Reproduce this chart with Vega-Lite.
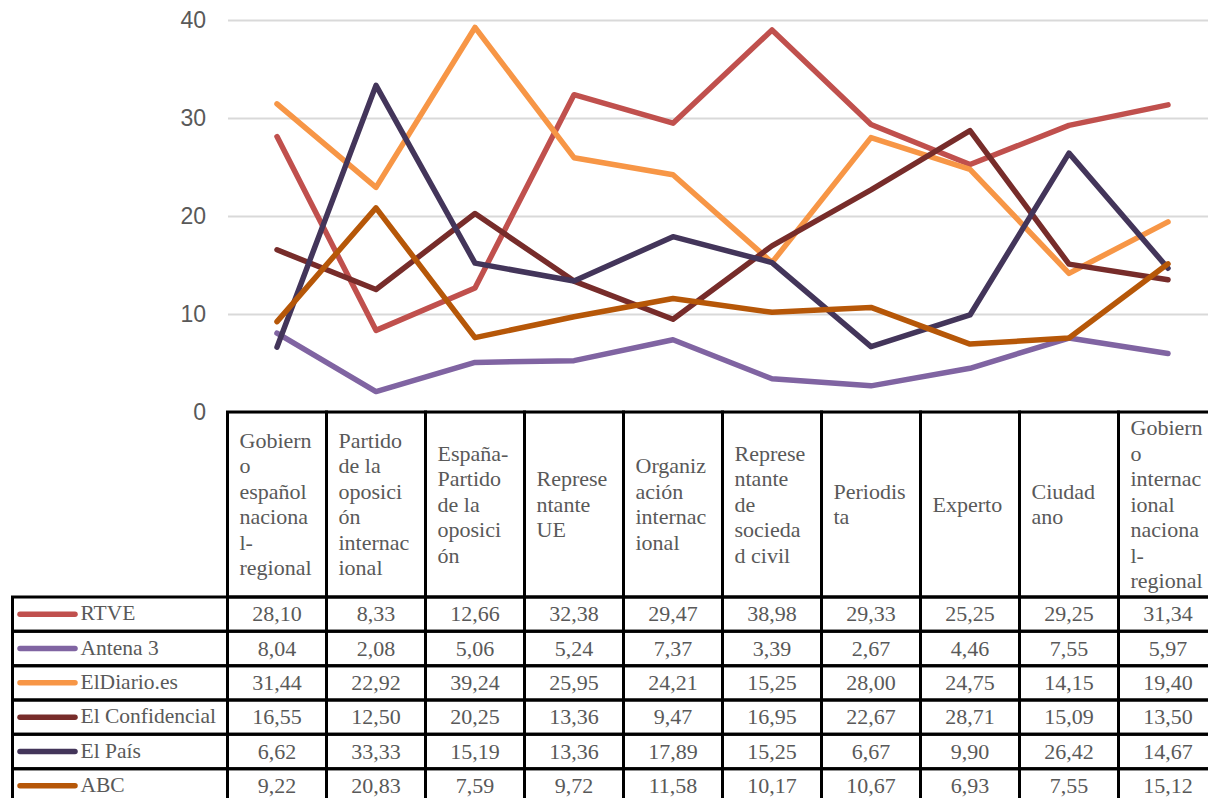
{
  "$schema": "https://vega.github.io/schema/vega-lite/v6.json",
  "padding": {"left": 8.5, "top": 9, "right": 0, "bottom": 0},
  "background": "white",
  "config": {
    "view": {"stroke": null},
    "locale": {"number": {"decimal": ",", "thousands": ".", "grouping": [3], "currency": ["", " €"]}}
  },
  "datasets": {
    "valores": [
      {"medio": "RTVE", "cat": "Gobierno español nacional-regional", "valor": 28.10},
      {"medio": "RTVE", "cat": "Partido de la oposición internacional", "valor": 8.33},
      {"medio": "RTVE", "cat": "España-Partido de la oposición", "valor": 12.66},
      {"medio": "RTVE", "cat": "Representante UE", "valor": 32.38},
      {"medio": "RTVE", "cat": "Organización internacional", "valor": 29.47},
      {"medio": "RTVE", "cat": "Representante de sociedad civil", "valor": 38.98},
      {"medio": "RTVE", "cat": "Periodista", "valor": 29.33},
      {"medio": "RTVE", "cat": "Experto", "valor": 25.25},
      {"medio": "RTVE", "cat": "Ciudadano", "valor": 29.25},
      {"medio": "RTVE", "cat": "Gobierno internacional nacional-regional", "valor": 31.34},
      {"medio": "Antena 3", "cat": "Gobierno español nacional-regional", "valor": 8.04},
      {"medio": "Antena 3", "cat": "Partido de la oposición internacional", "valor": 2.08},
      {"medio": "Antena 3", "cat": "España-Partido de la oposición", "valor": 5.06},
      {"medio": "Antena 3", "cat": "Representante UE", "valor": 5.24},
      {"medio": "Antena 3", "cat": "Organización internacional", "valor": 7.37},
      {"medio": "Antena 3", "cat": "Representante de sociedad civil", "valor": 3.39},
      {"medio": "Antena 3", "cat": "Periodista", "valor": 2.67},
      {"medio": "Antena 3", "cat": "Experto", "valor": 4.46},
      {"medio": "Antena 3", "cat": "Ciudadano", "valor": 7.55},
      {"medio": "Antena 3", "cat": "Gobierno internacional nacional-regional", "valor": 5.97},
      {"medio": "ElDiario.es", "cat": "Gobierno español nacional-regional", "valor": 31.44},
      {"medio": "ElDiario.es", "cat": "Partido de la oposición internacional", "valor": 22.92},
      {"medio": "ElDiario.es", "cat": "España-Partido de la oposición", "valor": 39.24},
      {"medio": "ElDiario.es", "cat": "Representante UE", "valor": 25.95},
      {"medio": "ElDiario.es", "cat": "Organización internacional", "valor": 24.21},
      {"medio": "ElDiario.es", "cat": "Representante de sociedad civil", "valor": 15.25},
      {"medio": "ElDiario.es", "cat": "Periodista", "valor": 28.00},
      {"medio": "ElDiario.es", "cat": "Experto", "valor": 24.75},
      {"medio": "ElDiario.es", "cat": "Ciudadano", "valor": 14.15},
      {"medio": "ElDiario.es", "cat": "Gobierno internacional nacional-regional", "valor": 19.40},
      {"medio": "El Confidencial", "cat": "Gobierno español nacional-regional", "valor": 16.55},
      {"medio": "El Confidencial", "cat": "Partido de la oposición internacional", "valor": 12.50},
      {"medio": "El Confidencial", "cat": "España-Partido de la oposición", "valor": 20.25},
      {"medio": "El Confidencial", "cat": "Representante UE", "valor": 13.36},
      {"medio": "El Confidencial", "cat": "Organización internacional", "valor": 9.47},
      {"medio": "El Confidencial", "cat": "Representante de sociedad civil", "valor": 16.95},
      {"medio": "El Confidencial", "cat": "Periodista", "valor": 22.67},
      {"medio": "El Confidencial", "cat": "Experto", "valor": 28.71},
      {"medio": "El Confidencial", "cat": "Ciudadano", "valor": 15.09},
      {"medio": "El Confidencial", "cat": "Gobierno internacional nacional-regional", "valor": 13.50},
      {"medio": "El País", "cat": "Gobierno español nacional-regional", "valor": 6.62},
      {"medio": "El País", "cat": "Partido de la oposición internacional", "valor": 33.33},
      {"medio": "El País", "cat": "España-Partido de la oposición", "valor": 15.19},
      {"medio": "El País", "cat": "Representante UE", "valor": 13.36},
      {"medio": "El País", "cat": "Organización internacional", "valor": 17.89},
      {"medio": "El País", "cat": "Representante de sociedad civil", "valor": 15.25},
      {"medio": "El País", "cat": "Periodista", "valor": 6.67},
      {"medio": "El País", "cat": "Experto", "valor": 9.90},
      {"medio": "El País", "cat": "Ciudadano", "valor": 26.42},
      {"medio": "El País", "cat": "Gobierno internacional nacional-regional", "valor": 14.67},
      {"medio": "ABC", "cat": "Gobierno español nacional-regional", "valor": 9.22},
      {"medio": "ABC", "cat": "Partido de la oposición internacional", "valor": 20.83},
      {"medio": "ABC", "cat": "España-Partido de la oposición", "valor": 7.59},
      {"medio": "ABC", "cat": "Representante UE", "valor": 9.72},
      {"medio": "ABC", "cat": "Organización internacional", "valor": 11.58},
      {"medio": "ABC", "cat": "Representante de sociedad civil", "valor": 10.17},
      {"medio": "ABC", "cat": "Periodista", "valor": 10.67},
      {"medio": "ABC", "cat": "Experto", "valor": 6.93},
      {"medio": "ABC", "cat": "Ciudadano", "valor": 7.55},
      {"medio": "ABC", "cat": "Gobierno internacional nacional-regional", "valor": 15.12}
    ],
    "categorias": [
      {"cat": "Gobierno español nacional-regional", "etiqueta": "Gobiern\no\nespañol\nnaciona\nl-\nregional"},
      {"cat": "Partido de la oposición internacional", "etiqueta": "Partido\nde la\noposici\nón\ninternac\nional"},
      {"cat": "España-Partido de la oposición", "etiqueta": "España-\nPartido\nde la\noposici\nón"},
      {"cat": "Representante UE", "etiqueta": "Represe\nntante\nUE"},
      {"cat": "Organización internacional", "etiqueta": "Organiz\nación\ninternac\nional"},
      {"cat": "Representante de sociedad civil", "etiqueta": "Represe\nntante\nde\nsocieda\nd civil"},
      {"cat": "Periodista", "etiqueta": "Periodis\nta"},
      {"cat": "Experto", "etiqueta": "Experto"},
      {"cat": "Ciudadano", "etiqueta": "Ciudad\nano"},
      {"cat": "Gobierno internacional nacional-regional", "etiqueta": "Gobiern\no\ninternac\nional\nnaciona\nl-\nregional"}
    ],
    "vacio": [{"t": ""}]
  },
  "columns": 2,
  "spacing": 0,
  "bounds": "flush",
  "align": "each",
  "resolve": {"scale": {"color": "shared"}},
  "concat": [
    {
      "width": 215, "height": 1,
      "data": {"name": "vacio"},
      "mark": {"type": "text"},
      "encoding": {"text": {"field": "t"}}
    },
    {
      "width": 990, "height": 392,
      "data": {"name": "valores"},
      "mark": {"type": "line", "strokeWidth": 5.5, "strokeJoin": "round", "strokeCap": "round"},
      "encoding": {
        "x": {"field": "cat", "type": "nominal", "axis": null, "sort": null,
              "scale": {"type": "point", "padding": 0.5, "domain": ["Gobierno español nacional-regional", "Partido de la oposición internacional", "España-Partido de la oposición", "Representante UE", "Organización internacional", "Representante de sociedad civil", "Periodista", "Experto", "Ciudadano", "Gobierno internacional nacional-regional"]}},
        "y": {"field": "valor", "type": "quantitative",
              "scale": {"domain": [0, 40], "nice": false},
              "axis": {"title": null, "values": [0, 10, 20, 30, 40], "domain": false, "ticks": false,
                       "grid": true, "gridColor": "#d9d9d9", "gridWidth": 2,
                       "labelFont": "Liberation Sans", "labelFontSize": 23, "labelColor": "#595959",
                       "labelPadding": 22}},
        "color": {"field": "medio", "type": "nominal", "legend": null,
                  "scale": {"domain": ["RTVE", "Antena 3", "ElDiario.es", "El Confidencial", "El País", "ABC"],
                            "range": ["#C0504D", "#8064A2", "#F79646", "#772C2A", "#43355A", "#B65708"]}}
      }
    },
    {
      "width": 215, "height": 1,
      "data": {"name": "vacio"},
      "mark": {"type": "text"},
      "encoding": {"text": {"field": "t"}}
    },
    {
      "width": 990, "height": 185,
      "data": {"name": "categorias"},
      "encoding": {
        "x": {"field": "cat", "type": "nominal", "axis": null, "sort": null,
              "scale": {"type": "band", "paddingInner": 0, "paddingOuter": 0}}
      },
      "layer": [
        {
          "mark": {"type": "rect", "filled": false, "stroke": "black", "strokeWidth": 3}
        },
        {
          "transform": [{"filter": "length(split(datum.etiqueta, '\\n')) == 1"}],
          "mark": {"type": "text", "align": "left", "baseline": "middle", "dx": 12, "dy": 0, "lineBreak": "\n",
                   "lineHeight": 25.5, "font": "Liberation Serif", "fontSize": 22, "color": "#595959"},
          "encoding": {"x": {"field": "cat", "type": "nominal", "bandPosition": 0}, "text": {"field": "etiqueta"}}
        },
        {
          "transform": [{"filter": "length(split(datum.etiqueta, '\\n')) == 2"}],
          "mark": {"type": "text", "align": "left", "baseline": "middle", "dx": 12, "dy": -12.75, "lineBreak": "\n",
                   "lineHeight": 25.5, "font": "Liberation Serif", "fontSize": 22, "color": "#595959"},
          "encoding": {"x": {"field": "cat", "type": "nominal", "bandPosition": 0}, "text": {"field": "etiqueta"}}
        },
        {
          "transform": [{"filter": "length(split(datum.etiqueta, '\\n')) == 3"}],
          "mark": {"type": "text", "align": "left", "baseline": "middle", "dx": 12, "dy": -25.5, "lineBreak": "\n",
                   "lineHeight": 25.5, "font": "Liberation Serif", "fontSize": 22, "color": "#595959"},
          "encoding": {"x": {"field": "cat", "type": "nominal", "bandPosition": 0}, "text": {"field": "etiqueta"}}
        },
        {
          "transform": [{"filter": "length(split(datum.etiqueta, '\\n')) == 4"}],
          "mark": {"type": "text", "align": "left", "baseline": "middle", "dx": 12, "dy": -38.25, "lineBreak": "\n",
                   "lineHeight": 25.5, "font": "Liberation Serif", "fontSize": 22, "color": "#595959"},
          "encoding": {"x": {"field": "cat", "type": "nominal", "bandPosition": 0}, "text": {"field": "etiqueta"}}
        },
        {
          "transform": [{"filter": "length(split(datum.etiqueta, '\\n')) == 5"}],
          "mark": {"type": "text", "align": "left", "baseline": "middle", "dx": 12, "dy": -51, "lineBreak": "\n",
                   "lineHeight": 25.5, "font": "Liberation Serif", "fontSize": 22, "color": "#595959"},
          "encoding": {"x": {"field": "cat", "type": "nominal", "bandPosition": 0}, "text": {"field": "etiqueta"}}
        },
        {
          "transform": [{"filter": "length(split(datum.etiqueta, '\\n')) == 6"}],
          "mark": {"type": "text", "align": "left", "baseline": "middle", "dx": 12, "dy": -63.75, "lineBreak": "\n",
                   "lineHeight": 25.5, "font": "Liberation Serif", "fontSize": 22, "color": "#595959"},
          "encoding": {"x": {"field": "cat", "type": "nominal", "bandPosition": 0}, "text": {"field": "etiqueta"}}
        },
        {
          "transform": [{"filter": "length(split(datum.etiqueta, '\\n')) == 7"}],
          "mark": {"type": "text", "align": "left", "baseline": "middle", "dx": 12, "dy": -76.5, "lineBreak": "\n",
                   "lineHeight": 25.5, "font": "Liberation Serif", "fontSize": 22, "color": "#595959"},
          "encoding": {"x": {"field": "cat", "type": "nominal", "bandPosition": 0}, "text": {"field": "etiqueta"}}
        }
      ]
    },
    {
      "width": 215, "height": 206,
      "data": {"name": "valores"},
      "transform": [{"aggregate": [{"op": "count", "as": "n"}], "groupby": ["medio"]}],
      "encoding": {
        "y": {"field": "medio", "type": "nominal", "axis": null,
              "scale": {"type": "band", "paddingInner": 0, "paddingOuter": 0,
                        "domain": ["RTVE", "Antena 3", "ElDiario.es", "El Confidencial", "El País", "ABC"]}}
      },
      "layer": [
        {
          "mark": {"type": "rect", "filled": false, "stroke": "black", "strokeWidth": 3}
        },
        {
          "mark": {"type": "point", "shape": "M-1,0L1,0", "size": 3025, "filled": false,
                   "strokeWidth": 5.5, "strokeCap": "round", "opacity": 1},
          "encoding": {
            "y": {"field": "medio", "type": "nominal", "bandPosition": 0.5},
            "xOffset": {"value": -72.5},
            "color": {"field": "medio", "type": "nominal", "legend": null}
          }
        },
        {
          "mark": {"type": "text", "align": "left", "baseline": "middle", "dx": -39.5,
                   "font": "Liberation Serif", "fontSize": 21.5, "color": "#595959"},
          "encoding": {
            "y": {"field": "medio", "type": "nominal", "bandPosition": 0.5},
            "text": {"field": "medio"}
          }
        }
      ]
    },
    {
      "width": 990, "height": 206,
      "data": {"name": "valores"},
      "encoding": {
        "x": {"field": "cat", "type": "nominal", "axis": null, "sort": null,
              "scale": {"type": "band", "paddingInner": 0, "paddingOuter": 0}},
        "y": {"field": "medio", "type": "nominal", "axis": null,
              "scale": {"type": "band", "paddingInner": 0, "paddingOuter": 0,
                        "domain": ["RTVE", "Antena 3", "ElDiario.es", "El Confidencial", "El País", "ABC"]}}
      },
      "layer": [
        {
          "mark": {"type": "rect", "filled": false, "stroke": "black", "strokeWidth": 3}
        },
        {
          "mark": {"type": "text", "align": "center", "baseline": "middle",
                   "font": "Liberation Serif", "fontSize": 22, "color": "#595959"},
          "encoding": {
            "x": {"field": "cat", "type": "nominal", "bandPosition": 0.5},
            "y": {"field": "medio", "type": "nominal", "bandPosition": 0.5},
            "text": {"field": "valor", "type": "quantitative", "format": ".2f"}
          }
        }
      ]
    }
  ]
}
